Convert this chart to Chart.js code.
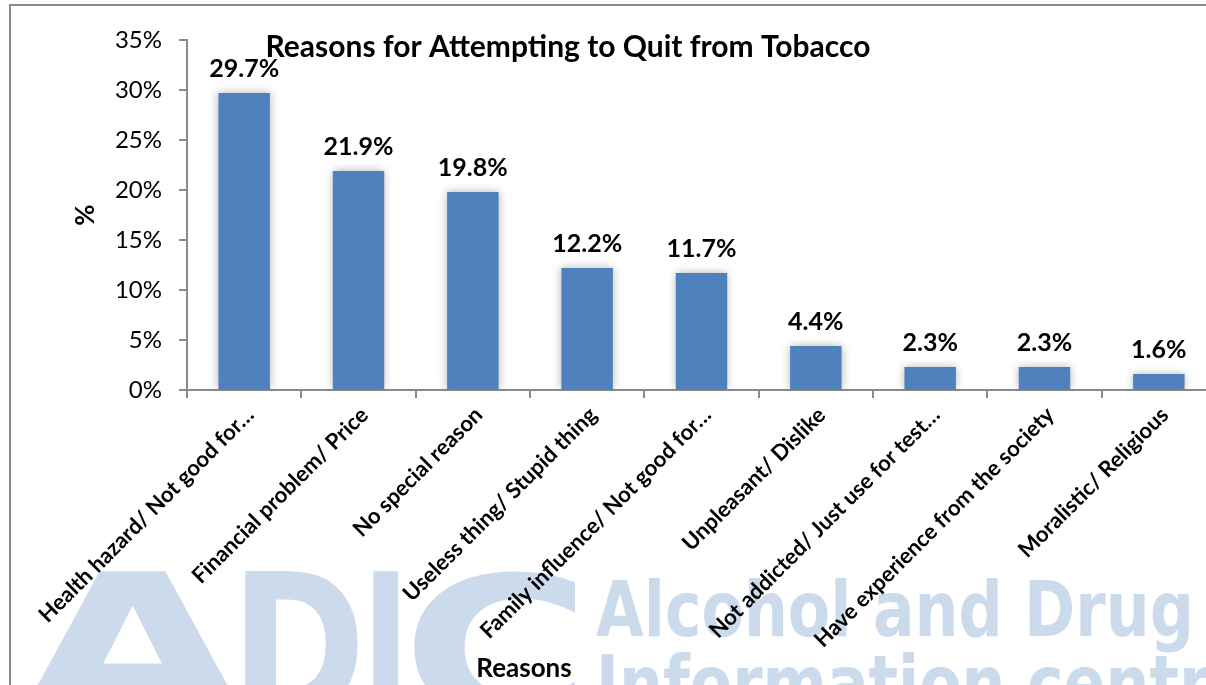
<!DOCTYPE html>
<html>
<head>
<meta charset="utf-8">
<script src="https://cdn.jsdelivr.net/npm/chart.js@4/dist/chart.umd.min.js"></script>
<style>
    html, body { margin: 0; padding: 0; background: #fff; overflow: hidden; }
    #wrap { position: relative; width: 1230px; height: 685px; }
</style>
</head>
<body>
<div id="wrap"><canvas id="quitChart"></canvas></div>
<script>
// chart data
const reasons = [
    'Health hazard/ Not good for\u2026',
    'Financial problem/ Price',
    'No special reason',
    'Useless thing/ Stupid thing',
    'Family influence/ Not good for\u2026',
    'Unpleasant/ Dislike',
    'Not addicted/ Just use for test\u2026',
    'Have experience from the society',
    'Moralistic/ Religious'
];
const percentages = [29.7, 21.9, 19.8, 12.2, 11.7, 4.4, 2.3, 2.3, 1.6];
const yTickValues = [0, 5, 10, 15, 20, 25, 30, 35];

const chartTitle = 'Reasons for Attempting to Quit from Tobacco';
const xTitle = 'Reasons';
const yTitle = '%';

const axisGrey = '#8a8a8a';
const barBlue = '#4f81bd';
const markBlue = '#cbdbeb';

// logo letters: [letter, left, right]
const logoLetters = [['A', 19, 245], ['D', 245, 358], ['I', 373, 398], ['C', 413, 575]];

function drawFitted(ctx, text, left, top, width) {
    const m = ctx.measureText(text);
    const w = m.actualBoundingBoxLeft + m.actualBoundingBoxRight;
    ctx.save();
    ctx.translate(left, top + m.actualBoundingBoxAscent);
    ctx.scale(width / w, 1);
    ctx.fillText(text, m.actualBoundingBoxLeft, 0);
    ctx.restore();
    return width / w;
}

// watermark, border, labels and titles drawn on the canvas
const overlay = {
    id: 'overlay',
    beforeDraw(chart) {
        const ctx = chart.ctx;
        ctx.save();
        ctx.fillStyle = markBlue;
        ctx.textBaseline = 'alphabetic';
        ctx.textAlign = 'left';

        // big ADIC letters
        ctx.font = 'bold 200px "DejaVu Sans"';
        logoLetters.forEach(([ch, l, r]) => drawFitted(ctx, ch, l, 571, r - l));

        // Alcohol and Drug / Information centre
        ctx.font = 'bold 77px "DejaVu Sans"';
        const sx = drawFitted(ctx, 'Alcohol and Drug', 596, 578, 593);
        const cap = ctx.measureText('I').actualBoundingBoxAscent;
        ctx.save();
        ctx.translate(596, 654 + cap);
        ctx.scale(sx, 1);
        ctx.fillText('Information centre', 0, 0);
        ctx.restore();

        // chart frame
        ctx.strokeStyle = axisGrey;
        ctx.lineWidth = 2;
        ctx.beginPath();
        ctx.moveTo(10, 700);
        ctx.lineTo(10, 5);
        ctx.lineTo(1230, 5);
        ctx.stroke();
        ctx.restore();
    },
    beforeDatasetsDraw(chart) {
        const ctx = chart.ctx;
        ctx.save();
        ctx.shadowColor = 'rgba(0, 0, 0, 0.3)';
        ctx.shadowBlur = 9;
    },
    afterDatasetsDraw(chart) {
        const ctx = chart.ctx;
        ctx.restore();

        // value labels above bars
        ctx.save();
        ctx.fillStyle = '#000';
        ctx.font = 'bold 25px Lato';
        ctx.textAlign = 'center';
        ctx.textBaseline = 'alphabetic';
        chart.getDatasetMeta(0).data.forEach((bar, i) => {
            ctx.fillText(percentages[i].toFixed(1) + '%', bar.x, bar.y - 16);
        });
        ctx.restore();
    },
    afterDraw(chart) {
        const ctx = chart.ctx;
        ctx.save();
        ctx.fillStyle = '#000';
        ctx.textAlign = 'center';
        ctx.textBaseline = 'alphabetic';
        ctx.font = 'bold 30px Lato';
        ctx.fillText(chartTitle, 568, 57);

        ctx.font = 'bold 26px Lato';
        ctx.fillText(xTitle, 524, 677);

        ctx.textBaseline = 'middle';
        ctx.translate(86, (chart.chartArea.top + chart.chartArea.bottom) / 2);
        ctx.rotate(-Math.PI / 2);
        ctx.fillText(yTitle, 0, 0);
        ctx.restore();
    }
};

const ctx = document.getElementById('quitChart').getContext('2d');
new Chart(ctx, {
    type: 'bar',
    data: {
        labels: reasons,
        datasets: [{
            label: 'Reasons',
            data: percentages,
            backgroundColor: barBlue,
            borderWidth: 0,
            categoryPercentage: 1,
            barPercentage: 0.45
        }]
    },
    options: {
        responsive: true,
        maintainAspectRatio: false,
        animation: false,
        layout: {
            padding: { left: 0, top: 40, right: 14, bottom: 0 }
        },
        plugins: {
            legend: { display: false },
            tooltip: { enabled: false },
            title: { display: false }
        },
        scales: {
            x: {
                afterFit: scale => { scale.height = 295; },
                border: { color: axisGrey, width: 2 },
                grid: {
                    drawOnChartArea: false,
                    color: axisGrey,
                    lineWidth: 2,
                    tickLength: 8
                },
                ticks: {
                    autoSkip: false,
                    minRotation: 45,
                    maxRotation: 45,
                    padding: 4,
                    labelOffset: 6,
                    color: '#000',
                    font: { family: 'Lato', size: 22, weight: 'bold' }
                }
            },
            y: {
                min: 0,
                max: 35,
                afterFit: scale => { scale.width = 187; },
                afterBuildTicks: scale => {
                    scale.ticks = yTickValues.map(v => ({ value: v }));
                },
                border: { color: axisGrey, width: 2 },
                grid: {
                    drawOnChartArea: false,
                    color: axisGrey,
                    lineWidth: 2,
                    tickLength: 8
                },
                ticks: {
                    padding: 17,
                    color: '#000',
                    font: { family: 'Lato', size: 24 },
                    callback: value => value + '%'
                }
            }
        }
    },
    plugins: [overlay]
});
</script>
</body>
</html>
